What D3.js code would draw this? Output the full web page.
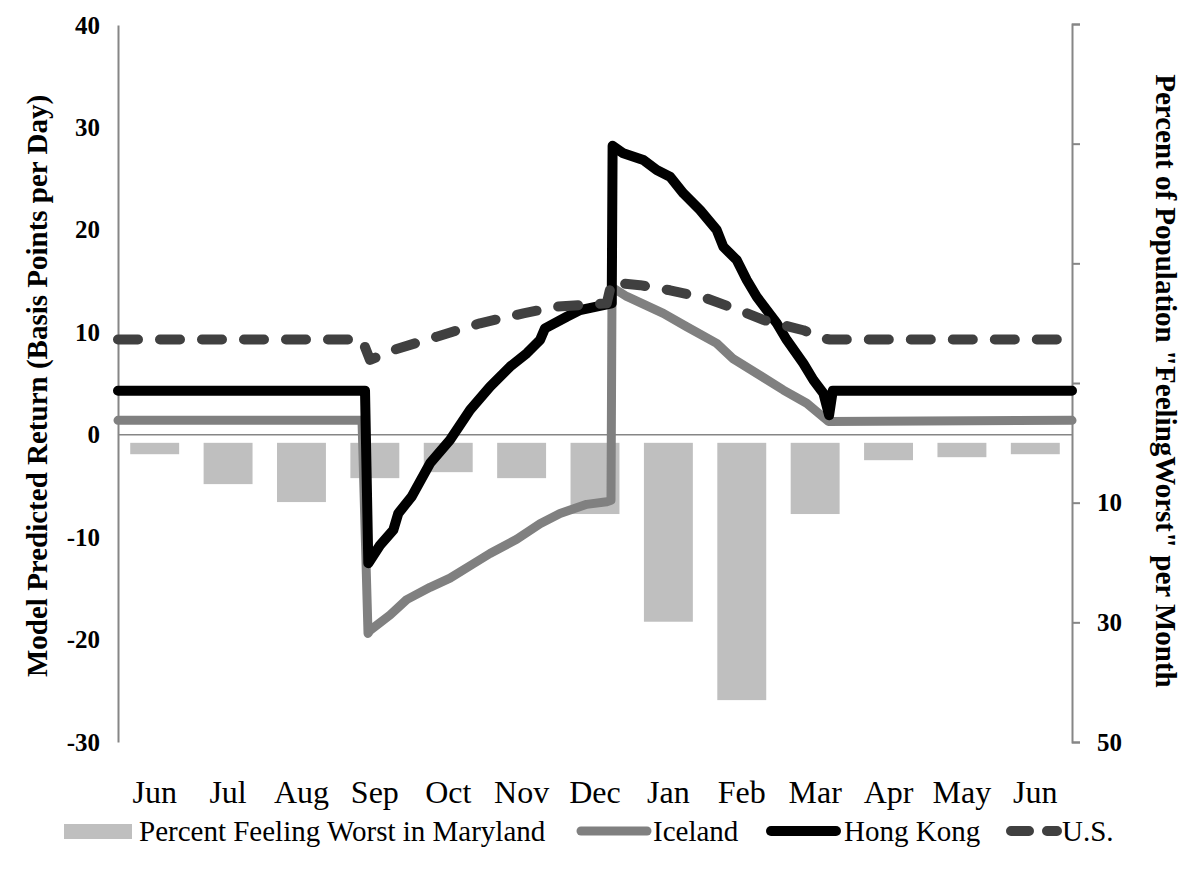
<!DOCTYPE html>
<html>
<head>
<meta charset="utf-8">
<script src="https://cdn.jsdelivr.net/npm/d3@7"></script>
<style>
  html, body { margin: 0; padding: 0; background: #fff; }
  svg { display: block; }
  text { font-family: "Liberation Serif", "Times New Roman", serif; fill: #000; }
</style>
</head>
<body>
<svg id="chart" width="1182" height="874"></svg>
<script>
// ---------- data ----------
const months = ["Jun","Jul","Aug","Sep","Oct","Nov","Dec","Jan","Feb","Mar","Apr","May","Jun"];
// Percent of population "feeling worst" per month in Maryland (right axis, reversed)
const marylandPct = [1.9, 6.9, 9.9, 5.9, 4.9, 5.9, 11.9, 29.9, 43.0, 11.9, 2.9, 2.4, 1.9];

// line series: position along the year in month units (0 = start of first Jun, 13 = end of last Jun)
const icelandPos = [0, 3.325, 3.407, 3.434, 3.707, 3.934, 4.252, 4.524, 4.842, 5.069, 5.433, 5.751, 6.023, 6.387, 6.66, 6.718, 6.732, 6.932, 7.431, 7.75, 8.159, 8.385, 8.704, 9.067, 9.385, 9.68, 13];
const icelandVal = [1.4, 1.4, -19.4, -19.1, -17.6, -16.1, -14.9, -14.0, -12.6, -11.6, -10.2, -8.7, -7.7, -6.8, -6.55, -6.4, 14.4, 13.5, 11.85, 10.54, 8.92, 7.4, 5.99, 4.36, 3.07, 1.3, 1.4];

const hongKongPos = [0, 3.366, 3.411, 3.57, 3.752, 3.82, 4.002, 4.252, 4.524, 4.797, 5.069, 5.342, 5.57, 5.751, 5.819, 6.115, 6.296, 6.728, 6.74, 6.886, 7.159, 7.341, 7.522, 7.704, 7.931, 8.159, 8.249, 8.431, 8.568, 8.704, 8.977, 9.113, 9.339, 9.476, 9.612, 9.69, 9.74, 13];
const hongKongVal = [4.3, 4.3, -12.55, -10.8, -9.3, -7.67, -6.05, -2.79, -0.52, 2.41, 4.69, 6.64, 7.95, 9.25, 10.39, 11.52, 12.17, 12.83, 28.2, 27.47, 26.82, 25.84, 25.19, 23.57, 21.94, 19.98, 18.35, 17.05, 15.1, 13.47, 10.88, 9.25, 6.97, 5.34, 4.04, 1.9, 4.3, 4.3];

const usPos = [0, 3.325, 3.434, 3.752, 4.343, 4.933, 5.523, 5.978, 6.66, 6.728, 6.841, 7.114, 7.522, 8.023, 8.522, 8.794, 9.067, 9.339, 9.612, 9.70, 13];
const usVal = [9.3, 9.3, 7.3, 8.27, 9.57, 10.88, 11.85, 12.5, 12.83, 14.9, 14.78, 14.6, 14.1, 13.3, 12.0, 11.2, 10.7, 10.2, 9.4, 9.3, 9.3];

const leftTicks = [-30, -20, -10, 0, 10, 20, 30, 40];
const rightTicks = [-70, -50, -30, -10, 10, 30, 50];
const rightTickLabels = ["", "", "", "", "10", "30", "50"];

const seriesNames = ["Percent Feeling Worst in Maryland", "Iceland", "Hong Kong", "U.S."];
const leftTitle = "Model Predicted Return (Basis Points per Day)";
const rightTitle = "Percent of Population \"FeelingWorst\" per Month";

// ---------- layout ----------
const svg = d3.select("#chart");
const L = 118, R = 1072, T = 25, B = 742;
const axisColor = "#868686";
const FONT = "Liberation Serif";

const x = d3.scaleBand().domain(d3.range(months.length)).range([L, R]).paddingInner(1/3).paddingOuter(1/6);
const xCat = d3.scaleBand().domain(d3.range(months.length)).range([L, R]);
const xLine = d3.scaleLinear().domain([0, months.length]).range([L, R]);
const yL = d3.scaleLinear().domain([-30, 40]).range([B, T]);
const yR = d3.scaleLinear().domain([-70, 50]).range([T - 1, B]);

// bars (right axis)
svg.append("g").selectAll("rect").data(marylandPct).join("rect")
  .attr("x", (d, i) => x(i))
  .attr("width", x.bandwidth())
  .attr("y", yR(0))
  .attr("height", d => yR(d) - yR(0))
  .attr("fill", "#bfbfbf");

// left axis
const gL = svg.append("g").attr("transform", `translate(${L},0)`)
  .call(d3.axisLeft(yL).tickValues(leftTicks).tickSize(0).tickPadding(18).tickFormat(d => String(d)));
gL.select(".domain").attr("stroke", axisColor).attr("stroke-width", 2);
gL.selectAll("text").attr("font-size", 25).attr("font-weight", "bold")
  .attr("font-family", FONT).attr("fill", "#000");

// right axis
const gR = svg.append("g").attr("transform", `translate(${R},0)`)
  .call(d3.axisRight(yR).tickValues(rightTicks).tickSize(8).tickPadding(17)
    .tickFormat((d, i) => rightTickLabels[i]));
gR.select(".domain").attr("stroke", axisColor).attr("stroke-width", 2);
gR.selectAll(".tick line").attr("stroke", axisColor).attr("stroke-width", 2);
gR.selectAll("text").attr("font-size", 25).attr("font-weight", "bold")
  .attr("font-family", FONT).attr("fill", "#000");

// category axis at zero
svg.append("line").attr("x1", L).attr("x2", R).attr("y1", yL(0)).attr("y2", yL(0))
  .attr("stroke", axisColor).attr("stroke-width", 1.5);

// month labels
svg.append("g").selectAll("text").data(months).join("text")
  .attr("x", (d, i) => xCat(i) + xCat.bandwidth() / 2)
  .attr("y", 803)
  .attr("text-anchor", "middle")
  .attr("font-size", 32)
  .text(d => d);

// lines
const lineGen = d3.line().x(d => xLine(d[0])).y(d => yL(d[1]));
const mk = (p, v) => p.map((d, i) => [d, v[i]]);
const lines = [
  { data: mk(icelandPos, icelandVal), color: "#808080", w: 9, dash: null },
  { data: mk(hongKongPos, hongKongVal), color: "#000000", w: 10, dash: null },
  { data: mk(usPos, usVal), color: "#404040", w: 10, dash: "20,22" }
];
lines.forEach(s => {
  svg.append("path").datum(s.data)
    .attr("d", lineGen)
    .attr("fill", "none")
    .attr("stroke", s.color)
    .attr("stroke-width", s.w)
    .attr("stroke-linecap", "round")
    .attr("stroke-linejoin", "round")
    .attr("stroke-dasharray", s.dash);
});

// axis titles
svg.append("text")
  .attr("transform", `translate(47,386) rotate(-90)`)
  .attr("text-anchor", "middle")
  .attr("font-size", 29).attr("font-weight", "bold")
  .text(leftTitle);
svg.append("text")
  .attr("transform", `translate(1156,381) rotate(90)`)
  .attr("text-anchor", "middle")
  .attr("font-size", 29).attr("font-weight", "bold")
  .text(rightTitle);

// legend
const lg = svg.append("g");
const ly = 831;
lg.append("rect").attr("x", 64).attr("y", ly - 7).attr("width", 68).attr("height", 15).attr("fill", "#bfbfbf");
lg.append("text").attr("x", 139).attr("y", ly + 10).attr("font-size", 29).text(seriesNames[0]);
const legLines = [
  { x1: 581, x2: 647, tx: 653, color: "#808080", w: 9, dash: null, name: seriesNames[1] },
  { x1: 771, x2: 836, tx: 844, color: "#000000", w: 10, dash: null, name: seriesNames[2] },
  { x1: 1011, x2: 1057, tx: 1062, color: "#404040", w: 10, dash: "18,18", name: seriesNames[3] }
];
legLines.forEach(s => {
  lg.append("line").attr("x1", s.x1).attr("x2", s.x2).attr("y1", ly).attr("y2", ly)
    .attr("stroke", s.color).attr("stroke-width", s.w).attr("stroke-linecap", "round")
    .attr("stroke-dasharray", s.dash);
  lg.append("text").attr("x", s.tx).attr("y", ly + 10).attr("font-size", 29).text(s.name);
});
</script>
</body>
</html>
